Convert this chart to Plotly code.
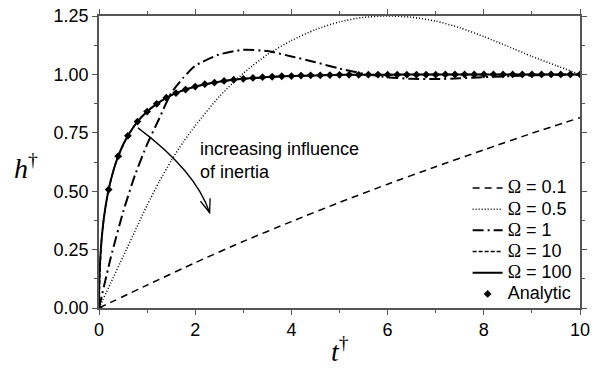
import plotly.graph_objects as go

# ---------------- data ----------------
t_w01 = [0, 1, 2, 3, 4, 5, 6, 7, 8, 9, 10]
h_w01 = [0, 0.098, 0.194, 0.285, 0.370, 0.452, 0.530, 0.605, 0.677, 0.748, 0.815]

t_w05 = [0, 0.25, 0.5, 0.75, 1, 1.25, 1.5, 1.75, 2, 2.5, 3, 3.5, 4, 4.5, 5,
         5.5, 6, 6.5, 7, 7.5, 8, 8.5, 9, 9.5, 10]
h_w05 = [0, 0.11, 0.22, 0.33, 0.44, 0.54, 0.63, 0.71, 0.78, 0.905, 1.005, 1.085,
         1.145, 1.192, 1.225, 1.244, 1.25, 1.245, 1.228, 1.20, 1.162, 1.12, 1.077,
         1.038, 1.0]

t_w1 = [0, 0.25, 0.5, 0.75, 1, 1.25, 1.5, 1.75, 2, 2.5, 3, 3.5, 4, 4.5, 5,
        5.5, 6, 6.5, 7, 7.5, 8, 9, 10]
h_w1 = [0, 0.22, 0.41, 0.57, 0.70, 0.81, 0.92, 0.985, 1.037, 1.085, 1.105, 1.10,
        1.077, 1.052, 1.025, 1.003, 0.988, 0.981, 0.980, 0.983, 0.988, 0.996, 1.0]

t_w10 = [0, 0.01, 0.025, 0.05, 0.1, 0.2, 0.3, 0.4, 0.6, 0.8, 1, 1.2, 1.4, 1.6,
         2, 2.5, 3, 4, 5, 6, 8, 10]
h_w10 = [0, 0.086, 0.178, 0.283, 0.382, 0.507, 0.589, 0.650, 0.737, 0.798, 0.841,
         0.874, 0.900, 0.920, 0.948, 0.969, 0.981, 0.993, 0.998, 0.999, 1.0, 1.0]

t_w100 = [0, 0.005, 0.023, 0.057, 0.111, 0.2, 0.3, 0.4, 0.5, 0.6, 0.8, 1, 1.2,
          1.4, 1.6, 1.8, 2, 2.5, 3, 3.5, 4, 5, 6, 7, 8, 10]
h_w100 = [0, 0.1, 0.2, 0.3, 0.4, 0.507, 0.589, 0.650, 0.699, 0.737, 0.798, 0.841,
          0.874, 0.900, 0.920, 0.935, 0.948, 0.969, 0.981, 0.989, 0.993, 0.998,
          0.999, 0.9995, 1.0, 1.0]

t_an = [0, 0.2, 0.4, 0.6, 0.8, 1.0, 1.2, 1.4, 1.6, 1.8, 2.0, 2.2, 2.4, 2.6, 2.8,
        3.0, 3.2, 3.4, 3.6, 3.8, 4.0, 4.2, 4.4, 4.6, 4.8, 5.0, 5.2, 5.4, 5.6, 5.8,
        6.0, 6.2, 6.4, 6.6, 6.8, 7.0, 7.2, 7.4, 7.6, 7.8, 8.0, 8.2, 8.4, 8.6, 8.8,
        9.0, 9.2, 9.4, 9.6, 9.8, 10.0]
h_an = [0, 0.507, 0.650, 0.737, 0.798, 0.841, 0.874, 0.900, 0.920, 0.935, 0.948,
        0.958, 0.965, 0.972, 0.977, 0.981, 0.985, 0.988, 0.990, 0.992, 0.993,
        0.995, 0.996, 0.996, 0.997, 0.998, 0.998, 0.998, 0.999, 0.999, 0.999,
        0.999, 0.999, 0.999, 0.999, 0.999, 1.0, 1.0, 1.0, 1.0, 1.0, 1.0, 1.0,
        1.0, 1.0, 1.0, 1.0, 1.0, 1.0, 1.0, 1.0]

omega_labels = ["0.1", "0.5", "1", "10", "100"]
x_ticks = [0, 2, 4, 6, 8, 10]
y_ticks = [0, 0.25, 0.5, 0.75, 1.0, 1.25]

# curved arrow annotation (data coords): start, control, end, head arms
arrow_start = (0.81, 0.771)
arrow_ctrl = (2.01, 0.587)
arrow_end = (2.30, 0.408)
arrow_arm1 = (2.31, 0.470)
arrow_arm2 = (2.11, 0.457)

SANS = "Liberation Sans, Arial, sans-serif"
SERIF = "Liberation Serif, Times New Roman, serif"

def om(lbl):
    return (f"<span style='font-size:18px'><span style='font-family:{SERIF}'>Ω</span>"
            f" = {lbl}</span>")

fig = go.Figure()
styles = [
    (t_w01, h_w01, "7px,5px", 1.5),
    (t_w05, h_w05, "1px,2px", 1.5),
    (t_w1, h_w1, "11px,4px,2px,4px", 2),
    (t_w10, h_w10, "4px,2px", 1.5),
    (t_w100, h_w100, "solid", 2),
]
for (tx, hy, dash, w), lbl in zip(styles, omega_labels):
    fig.add_trace(go.Scatter(x=tx, y=hy, mode="lines", name=om(lbl),
                             line=dict(color="black", width=w, dash=dash,
                                       shape="spline", smoothing=0.6)))
fig.add_trace(go.Scatter(x=t_an, y=h_an, mode="markers",
                         name="<span style='font-size:18px'>Analytic</span>",
                         marker=dict(symbol="diamond", size=6, color="black")))

axis_common = dict(showline=True, linecolor="#555", linewidth=1.5, mirror="ticks",
                   ticks="outside", ticklen=5, tickwidth=1, tickcolor="#555",
                   showgrid=False, zeroline=False, automargin=False,
                   ticklabeloverflow="allow",
                   tickfont=dict(family=SANS, size=18, color="black"))
fig.update_xaxes(range=[0, 10], tickvals=x_ticks, ticktext=[str(v) for v in x_ticks],
                 minor=dict(dtick=1, ticks="outside", ticklen=3, tickcolor="#555", showgrid=False),
                 **axis_common)
fig.update_yaxes(range=[0, 1.25], tickvals=y_ticks, ticktext=[f"{v:.2f}" for v in y_ticks],
                 minor=dict(dtick=0.125, ticks="outside", ticklen=3, tickcolor="#555", showgrid=False),
                 **axis_common)

path = (f"M {arrow_start[0]},{arrow_start[1]} Q {arrow_ctrl[0]},{arrow_ctrl[1]} "
        f"{arrow_end[0]},{arrow_end[1]}")
fig.add_shape(type="path", path=path, xref="x", yref="y", line=dict(color="black", width=1.3))
head = (f"M {arrow_arm1[0]},{arrow_arm1[1]} L {arrow_end[0]},{arrow_end[1]} "
        f"L {arrow_arm2[0]},{arrow_arm2[1]}")
fig.add_shape(type="path", path=head, xref="x", yref="y", line=dict(color="black", width=1.3))

fig.add_annotation(x=2.05, y=0.633, xref="x", yref="y", xanchor="left", yanchor="middle",
                   align="left", showarrow=False,
                   text="increasing influence<br>of inertia",
                   font=dict(family=SANS, size=18, color="black"))
fig.add_annotation(x=-0.152, y=0.485, xref="paper", yref="paper", showarrow=False,
                   xanchor="center", yanchor="middle",
                   text="<i>h</i><sup>†</sup>", font=dict(family=SERIF, size=28, color="black"))
fig.add_annotation(x=0.5, y=-0.142, xref="paper", yref="paper", showarrow=False,
                   xanchor="center", yanchor="middle",
                   text="<i>t</i><sup>†</sup>", font=dict(family=SERIF, size=28, color="black"))

fig.update_layout(
    width=601, height=374,
    margin=dict(l=91, r=29, t=8, b=74),
    paper_bgcolor="white", plot_bgcolor="white",
    showlegend=True,
    legend=dict(x=0.993, y=-0.008, xanchor="right", yanchor="bottom",
                bgcolor="rgba(0,0,0,0)", font=dict(family=SANS, size=14, color="black"),
                tracegroupgap=0, itemwidth=30),
)
fig.write_html("out.html")
